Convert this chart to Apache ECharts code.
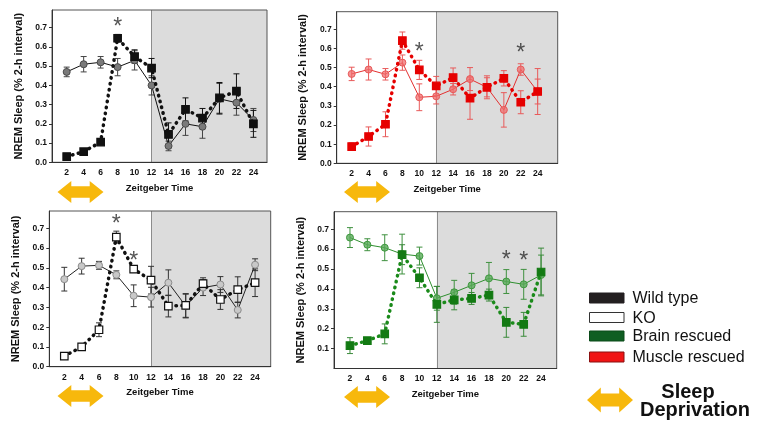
<!DOCTYPE html>
<html>
<head>
<meta charset="utf-8">
<script src="https://cdn.jsdelivr.net/npm/echarts@6/dist/echarts.min.js"></script>
<style>
  html, body { margin: 0; padding: 0; background: #fff; }
  #chart { width: 762px; height: 430px; }
</style>
</head>
<body>
<div id="chart"></div>
<script>
// Zeitgeber time (h) and y tick values
const hours = [2, 4, 6, 8, 10, 12, 14, 16, 18, 20, 22, 24];
const yTicks = [0, 0.1, 0.2, 0.3, 0.4, 0.5, 0.6, 0.7];

// Wild type: baseline (circles) and sleep deprivation (squares)
const wtBase    = [0.47, 0.51, 0.52, 0.495, 0.53, 0.40, 0.085, 0.20, 0.185, 0.33, 0.31, 0.22];
const wtBaseErr = [0.025, 0.04, 0.03, 0.045, 0.05, 0.05, 0.025, 0.06, 0.06, 0.08, 0.065, 0.06];
const wtSD      = [0.03, 0.055, 0.105, 0.645, 0.55, 0.49, 0.145, 0.275, 0.23, 0.335, 0.37, 0.20];
const wtSDErr   = [0.005, 0.01, 0.01, 0.02, 0.035, 0.05, 0.06, 0.06, 0.05, 0.08, 0.09, 0.07];

// Muscle rescued
const mrBase    = [0.467, 0.49, 0.465, 0.526, 0.345, 0.35, 0.387, 0.44, 0.397, 0.279, 0.49, 0.375];
const mrBaseErr = [0.035, 0.055, 0.03, 0.04, 0.07, 0.04, 0.03, 0.06, 0.05, 0.09, 0.03, 0.065];
const mrSD      = [0.087, 0.14, 0.204, 0.641, 0.488, 0.404, 0.448, 0.34, 0.397, 0.444, 0.319, 0.375];
const mrSDErr   = [0.02, 0.05, 0.065, 0.045, 0.05, 0.05, 0.05, 0.11, 0.06, 0.04, 0.06, 0.12];

// KO
const koBase    = [0.443, 0.509, 0.513, 0.465, 0.359, 0.352, 0.425, 0.307, 0.40, 0.416, 0.287, 0.516];
const koBaseErr = [0.06, 0.04, 0.02, 0.02, 0.055, 0.05, 0.065, 0.06, 0.04, 0.04, 0.04, 0.03];
const koSD      = [0.054, 0.10, 0.187, 0.656, 0.494, 0.438, 0.307, 0.31, 0.42, 0.34, 0.39, 0.425];
const koSDErr   = [0.005, 0.015, 0.035, 0.03, 0.01, 0.07, 0.055, 0.06, 0.03, 0.05, 0.065, 0.07];

// Brain rescued
const brBase    = [0.658, 0.622, 0.607, 0.575, 0.565, 0.353, 0.383, 0.418, 0.453, 0.437, 0.423, 0.47];
const brBaseErr = [0.05, 0.03, 0.065, 0.1, 0.045, 0.06, 0.06, 0.06, 0.08, 0.06, 0.075, 0.1];
const brSD      = [0.115, 0.14, 0.174, 0.572, 0.456, 0.322, 0.345, 0.352, 0.369, 0.232, 0.222, 0.485];
const brSDErr   = [0.04, 0.01, 0.05, 0.05, 0.05, 0.09, 0.05, 0.03, 0.03, 0.075, 0.06, 0.12];

// asterisks (significance) per panel: [hour, y]
const starsWT = [[8, 0.70]];
const starsMR = [[10, 0.58], [22, 0.575]];
const starsKO = [[8, 0.72], [10, 0.53]];
const starsBR = [[20, 0.54], [22, 0.535]];

const font = 'Liberation Sans, Arial, sans-serif';

// panel boxes in px + axis extents
const panels = [
  { left: 52,    top: 10,    right: 267,   bottom: 162.3, xMin: 0.27, xMax: 25.6,  yMax: 0.792, showZero: true },
  { left: 336.7, top: 11.7,  right: 557.7, bottom: 163.3, xMin: 0.23, xMax: 26.37, yMax: 0.792, showZero: true },
  { left: 49.3,  top: 211,   right: 270.7, bottom: 366.7, xMin: 0.27, xMax: 25.8,  yMax: 0.788, showZero: true },
  { left: 334,   top: 211.7, right: 556.7, bottom: 368.5, xMin: 0.16, xMax: 25.8,  yMax: 0.788, showZero: false }
];

const styles = [
  { base: wtBase, baseErr: wtBaseErr, sd: wtSD, sdErr: wtSDErr, stars: starsWT,
    cFill: '#7a7a7a', cBorder: '#4a4a4a', cLine: '#111', cErr: '#444',
    sFill: '#111', sBorder: '#111', sLine: '#111', sErr: '#111' },
  { base: mrBase, baseErr: mrBaseErr, sd: mrSD, sdErr: mrSDErr, stars: starsMR,
    cFill: 'rgba(240,110,110,0.75)', cBorder: '#e85a5a', cLine: '#e43030', cErr: '#e85a5a',
    sFill: '#e60000', sBorder: '#e60000', sLine: '#e60000', sErr: '#e85a5a' },
  { base: koBase, baseErr: koBaseErr, sd: koSD, sdErr: koSDErr, stars: starsKO,
    cFill: '#c8c8c8', cBorder: '#8c8c8c', cLine: '#222', cErr: '#333',
    sFill: '#ffffff', sBorder: '#111', sLine: '#111', sErr: '#333' },
  { base: brBase, baseErr: brBaseErr, sd: brSD, sdErr: brSDErr, stars: starsBR,
    cFill: 'rgba(90,170,90,0.8)', cBorder: '#3f993f', cLine: '#2f8f2f', cErr: '#3f913f',
    sFill: '#137a13', sBorder: '#137a13', sLine: '#1a8a1a', sErr: '#3a8a3a' }
];

function errorSeries(idx, vals, errs, color) {
  return {
    type: 'custom',
    xAxisIndex: idx, yAxisIndex: idx, z: 3, silent: true,
    data: hours.map((h, i) => [h, vals[i] - errs[i], vals[i] + errs[i]]),
    encode: { x: 0, y: [1, 2] },
    renderItem: function (params, api) {
      const lo = api.coord([api.value(0), api.value(1)]);
      const hi = api.coord([api.value(0), api.value(2)]);
      const w = 3;
      const st = { stroke: color, lineWidth: 1 };
      return {
        type: 'group',
        children: [
          { type: 'line', shape: { x1: lo[0], y1: lo[1], x2: hi[0], y2: hi[1] }, style: st },
          { type: 'line', shape: { x1: lo[0] - w, y1: lo[1], x2: lo[0] + w, y2: lo[1] }, style: st },
          { type: 'line', shape: { x1: hi[0] - w, y1: hi[1], x2: hi[0] + w, y2: hi[1] }, style: st }
        ]
      };
    }
  };
}

function arrow(cx, cy, w, h) {
  const hw = w / 2, hh = h / 2, head = w * 0.3, shaft = h * 0.26;
  return {
    type: 'polygon', silent: true,
    shape: { points: [
      [cx - hw, cy], [cx - hw + head, cy - hh], [cx - hw + head, cy - shaft],
      [cx + hw - head, cy - shaft], [cx + hw - head, cy - hh], [cx + hw, cy],
      [cx + hw - head, cy + hh], [cx + hw - head, cy + shaft],
      [cx - hw + head, cy + shaft], [cx - hw + head, cy + hh]
    ] },
    style: { fill: '#f7b80c' }
  };
}

let grids = [], xAxes = [], yAxes = [], series = [];
panels.forEach(function (p, i) {
  const s = styles[i];
  grids.push({
    left: p.left, top: p.top, width: p.right - p.left, height: p.bottom - p.top,
    show: true, borderColor: '#555', borderWidth: 1, backgroundColor: 'transparent',
    z: 10, containLabel: false, outerBoundsMode: 'none'
  });
  xAxes.push({
    type: 'value', gridIndex: i, min: p.xMin, max: p.xMax, z: 10,
    name: 'Zeitgeber Time', nameLocation: 'middle', nameGap: 21,
    nameTextStyle: { fontFamily: font, fontWeight: 'bold', fontSize: 9.5, color: '#111' },
    axisLine: { lineStyle: { color: '#333', width: 1 } },
    axisTick: { show: false },
    splitLine: { show: false },
    axisLabel: { customValues: hours, margin: 6, fontFamily: font, fontWeight: 'bold', fontSize: 8.5, color: '#111' }
  });
  yAxes.push({
    type: 'value', gridIndex: i, min: 0, max: p.yMax, z: 10,
    name: 'NREM Sleep (% 2-h interval)', nameLocation: 'middle', nameGap: 28, nameRotate: 90,
    nameTextStyle: { fontFamily: font, fontWeight: 'bold', fontSize: 11, color: '#111' },
    axisLine: { show: true, lineStyle: { color: '#333', width: 1 } },
    axisTick: { show: true, length: 3, customValues: p.showZero ? yTicks : yTicks.slice(1), lineStyle: { color: '#333' } },
    splitLine: { show: false },
    axisLabel: {
      customValues: p.showZero ? yTicks : yTicks.slice(1), margin: 5,
      formatter: v => v.toFixed(1),
      fontFamily: font, fontWeight: 'bold', fontSize: 8.5, color: '#111'
    }
  });

  // baseline (circles, solid) with dark-period shading
  series.push({
    type: 'line', xAxisIndex: i, yAxisIndex: i, z: 4,
    data: hours.map((h, k) => [h, s.base[k]]),
    symbol: 'circle', symbolSize: 7,
    itemStyle: { color: s.cFill, borderColor: s.cBorder, borderWidth: 1 },
    lineStyle: { color: s.cLine, width: 1 },
    markArea: { silent: true, z: 1, itemStyle: { color: '#dcdcdc' },
      data: [[{ xAxis: 12 }, { xAxis: p.xMax }]] },
    markLine: { silent: true, z: 2, symbol: 'none', label: { show: false },
      lineStyle: { color: '#8c8c8c', type: 'solid', width: 1 },
      data: [{ xAxis: 12 }] }
  });
  series.push(errorSeries(i, s.base, s.baseErr, s.cErr));

  // sleep deprivation (squares, dotted)
  series.push({
    type: 'line', xAxisIndex: i, yAxisIndex: i, z: 5,
    data: hours.map((h, k) => [h, s.sd[k]]),
    symbol: 'rect', symbolSize: 7.5,
    itemStyle: { color: s.sFill, borderColor: s.sBorder, borderWidth: 1.2 },
    lineStyle: { color: s.sLine, width: 3.5, type: [0.5, 5.5], cap: 'round' }
  });
  series.push(errorSeries(i, s.sd, s.sdErr, s.sErr));

  // asterisks
  series.push({
    type: 'scatter', xAxisIndex: i, yAxisIndex: i, z: 6, silent: true,
    data: s.stars, symbolSize: 1, itemStyle: { color: 'transparent' },
    label: { show: true, position: 'inside', formatter: '*',
      fontFamily: font, fontSize: 23, color: '#2a2a2a' }
  });
});

const legendItems = [
  { name: 'Wild type', fill: '#231f20', border: '#231f20', y: 298 },
  { name: 'KO', fill: '#ffffff', border: '#333', y: 317.5 },
  { name: 'Brain rescued', fill: '#0f5e22', border: '#0a4a18', y: 336 },
  { name: 'Muscle rescued', fill: '#f01414', border: '#8a1010', y: 357 }
];

let graphics = [];
legendItems.forEach(function (it) {
  graphics.push({ type: 'rect', silent: true,
    shape: { x: 589.5, y: it.y - 5, width: 34.5, height: 10 },
    style: { fill: it.fill, stroke: it.border, lineWidth: 1 } });
  graphics.push({ type: 'text', silent: true, x: 632.5, y: it.y + 1,
    style: { text: it.name, fontFamily: font, fontSize: 16, fill: '#111',
      textAlign: 'left', textVerticalAlign: 'middle' } });
});
graphics.push(arrow(610, 400, 46, 25));
graphics.push({ type: 'text', silent: true, x: 688, y: 392,
  style: { text: 'Sleep', fontFamily: font, fontWeight: 'bold', fontSize: 20, fill: '#111',
    textAlign: 'center', textVerticalAlign: 'middle' } });
graphics.push({ type: 'text', silent: true, x: 695, y: 410,
  style: { text: 'Deprivation', fontFamily: font, fontWeight: 'bold', fontSize: 20, fill: '#111',
    textAlign: 'center', textVerticalAlign: 'middle' } });
// sleep-deprivation arrows under each panel (ZT 0-6)
graphics.push(arrow(80.5, 192, 46, 22));
graphics.push(arrow(367, 192, 46, 22));
graphics.push(arrow(80.5, 396, 46, 22));
graphics.push(arrow(367, 397, 46, 22));

const myChart = echarts.init(document.getElementById('chart'), null, { renderer: 'canvas' });
myChart.setOption({
  animation: false,
  backgroundColor: '#fff',
  grid: grids,
  xAxis: xAxes,
  yAxis: yAxes,
  series: series,
  graphic: graphics
});
</script>
</body>
</html>
